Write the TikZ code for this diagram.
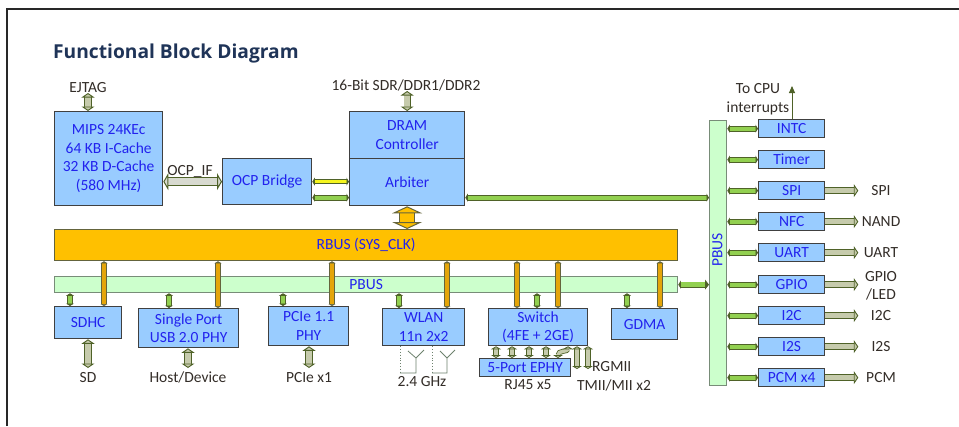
\documentclass[tikz,border=0pt]{standalone}
\usepackage{fontspec}
\setmainfont{Carlito}
\newfontfamily\titlefont{Open Sans}
\usetikzlibrary{arrows.meta}
\definecolor{boxfill}{RGB}{153,204,255}
\definecolor{boxdraw}{RGB}{64,64,64}
\definecolor{boxtext}{RGB}{34,34,238}
\definecolor{lblc}{RGB}{51,45,40}
\definecolor{titlec}{RGB}{31,52,88}
\definecolor{khaki}{RGB}{198,203,172}
\definecolor{dkgreen}{RGB}{79,98,40}
\definecolor{lgreen}{RGB}{146,208,80}
\definecolor{rbusfill}{RGB}{255,192,0}
\definecolor{rbusdraw}{RGB}{100,100,60}
\definecolor{pbusfill}{RGB}{204,255,204}
\definecolor{pbusdraw}{RGB}{120,140,120}
\definecolor{oline}{RGB}{228,165,10}
\definecolor{lgray}{RGB}{216,218,208}
\definecolor{yellowc}{RGB}{245,245,30}
\definecolor{antc}{RGB}{110,130,110}
\definecolor{framec}{RGB}{40,40,40}
\tikzset{
  ktip/.tip={Triangle[width=13pt,length=4.5pt,fill=khaki,line width=0.9pt]},
  ktips/.tip={Triangle[width=10pt,length=3pt,fill=khaki,line width=0.8pt]},
  gtip/.tip={Triangle[width=8pt,length=2.5pt]},
  gbig/.tip={Triangle[width=10pt,length=4pt]},
  otip/.tip={Triangle[width=7pt,length=2pt]},
  grtip/.tip={Triangle[width=17pt,length=5pt,fill=lgray,line width=1pt]},
  bigotip/.tip={Triangle[width=30pt,length=7pt,fill=rbusfill,line width=1pt]},
  box/.style={draw=boxdraw, fill=boxfill, line width=1.3pt, text=boxtext,
    align=center, inner sep=0pt, anchor=north west},
  lbl/.style={text=lblc, inner sep=0pt, align=center},
  karrow/.style={draw=dkgreen, double=khaki, line width=0.9pt, double distance=5.5pt, ktip-ktip},
  ksmall/.style={draw=dkgreen, double=khaki, line width=0.8pt, double distance=3.5pt, ktips-ktips},
  kout/.style={draw=dkgreen, double=khaki, line width=0.9pt, double distance=5pt, -ktip},
  garrow/.style={draw=dkgreen, double=lgray, line width=1pt, double distance=7pt, grtip-grtip},
  gbus/.style={draw=dkgreen, double=lgreen, line width=0.9pt, double distance=4pt, gtip-gtip},
  gbus2/.style={draw=dkgreen, double=lgreen, line width=0.9pt, double distance=4.5pt, gtip-gbig},
  obus/.style={draw=rbusdraw, double=oline, line width=0.8pt, double distance=3.5pt, otip-otip},
  ybus/.style={draw=dkgreen, double=yellowc, line width=0.9pt, double distance=3.5pt, gtip-gtip},
  oarrow/.style={draw=rbusdraw, double=rbusfill, line width=1pt, double distance=14pt, bigotip-bigotip},
  ant/.style={draw=antc, line width=0.8pt},
}
\begin{document}
\begin{tikzpicture}[x=1pt,y=-1pt,font=\fontsize{15.5}{18.5}\selectfont]
\useasboundingbox (0,0) rectangle (959,426);
\fill[white] (0,0) rectangle (959,426);
\draw[framec, line width=1.5pt] (7,426) -- (7,9) -- (959,9);

\node[anchor=base west, inner sep=0pt, text=titlec,
  font=\titlefont\bfseries\fontsize{19.2}{21}\selectfont] (title) at (53,58) {Functional Block Diagram};

% main blocks
\node[box, minimum width=108pt, minimum height=94pt] (mips) at (54,111)
  {MIPS 24KEc\\64 KB I-Cache\\32 KB D-Cache\\(580 MHz)};
\node[box, minimum width=89pt, minimum height=46pt] (ocp) at (222,158) {OCP Bridge};
\node[box, minimum width=115pt, minimum height=47pt] (dram) at (349,111) {DRAM\\Controller};
\node[box, minimum width=115pt, minimum height=47pt] (arb) at (349,158) {Arbiter};

\node[box, fill=rbusfill, draw=rbusdraw, minimum width=623pt, minimum height=31pt] (rbus) at (54,229) {RBUS (SYS\_CLK)};
\node[box, fill=pbusfill, draw=pbusdraw, minimum width=623pt, minimum height=16pt] (pbus) at (54,276) {PBUS};
\node[box, fill=pbusfill, draw=pbusdraw, minimum width=17pt, minimum height=265pt] (vpbus) at (709,120) {};
\node[rotate=90, text=boxtext, inner sep=0pt] (vpbuslbl) at (717.5,250) {PBUS};

% peripheral blocks on the right
\foreach \n/\t/\y in {intc/INTC/119, timer/Timer/150, spi/SPI/181, nfc/NFC/212,
    uart/UART/243, gpio/GPIO/275, itc/I2C/306, its/I2S/337, pcm/PCM x4/368}
  \node[box, minimum width=66pt, minimum height=18pt] (\n) at (758,\y) {\t};

% bottom blocks
\node[box, minimum width=67pt, minimum height=32pt] (sdhc) at (54,306) {SDHC};
\node[box, minimum width=100pt, minimum height=39pt] (usb) at (138,308) {Single Port\\USB 2.0 PHY};
\node[box, minimum width=80pt, minimum height=39pt] (pcie) at (268,306) {PCIe 1.1\\PHY};
\node[box, minimum width=82pt, minimum height=37pt] (wlan) at (382,308) {WLAN\\11n 2x2};
\node[box, minimum width=99pt, minimum height=37pt] (sw) at (488,308) {Switch\\(4FE + 2GE)};
\node[box, minimum width=66pt, minimum height=31pt] (gdma) at (611,308) {GDMA};
\node[box, minimum width=91pt, minimum height=18pt] (ephy) at (479,358) {5-Port EPHY};

% labels
\node[lbl, anchor=base] (ejtag) at (88,92) {EJTAG};
\node[lbl, anchor=base] (ddr) at (406,90) {16-Bit SDR/DDR1/DDR2};
\node[lbl, anchor=base] (ocpif) at (190,175) {OCP\_IF};
\node[lbl, font=\fontsize{15.5}{19}\selectfont] (cpuint) at (758,99) {To CPU\\interrupts};
\foreach \n/\t/\y in {spil/SPI/195, nandl/NAND/226, uartl/UART/257, itcl/I2C/320, itsl/I2S/351, pcml/PCM/382}
  \node[lbl, anchor=base] (\n) at (881,\y) {\t};
\node[lbl, font=\fontsize{15.5}{17.5}\selectfont] (gpiol) at (881,286) {GPIO\\/LED};
\node[lbl, anchor=base] (sdl) at (88,382) {SD};
\node[lbl, anchor=base] (usbl) at (188,382) {Host/Device};
\node[lbl, anchor=base] (pciel) at (309,382) {PCIe x1};
\node[lbl, anchor=base] (ghz) at (422,386) {2.4 GHz};
\node[lbl, anchor=base] (rj) at (528,389) {RJ45 x5};
\node[lbl, anchor=base west] (rgmii) at (592,371) {RGMII};
\node[lbl, anchor=base] (tmii) at (614,390) {TMII/MII x2};

% top connectors
\draw[karrow] (88,0 |- mips.north) -- ++(0,-18);
\draw[karrow] (dram.north) -- ++(0,-20);
\draw[garrow] (mips.east |- ocp.west) -- (ocp.west);
\draw[ybus] (ocp.east) -- (ocp.east -| arb.west);
\coordinate (g1) at ([yshift=-16pt]ocp.east);
\draw[gbus] (g1) -- (g1 -| arb.west);
\draw[gbus] (g1 -| arb.east) -- (g1 -| vpbus.west);
\draw[oarrow] (arb.south) -- (arb.south |- rbus.north);
\draw[gbus2] (pbus.east) -- (pbus.east -| vpbus.west);

% right side
\foreach \n in {intc,timer,spi,nfc,uart,gpio,itc,its,pcm}
  \draw[gbus] (\n.west -| vpbus.east) -- (\n.west);
\foreach \n in {spi,nfc,uart,gpio,itc,its,pcm}
  \draw[kout] (\n.east) -- ++(33,0);
\coordinate (cputip) at (792,86);
\draw[dkgreen, line width=0.9pt, -{Triangle[width=6pt,length=7pt]}] (cputip |- intc.north) -- (cputip);

% bottom bus connections
\foreach \x/\b in {70/sdhc,169/usb,283/pcie,399/wlan,537/sw,627/gdma}
  \draw[gbus] (\x,0 |- pbus.south) -- (\x,0 |- \b.north);
\foreach \x/\b in {104/sdhc,218/usb,332/pcie,447/wlan,517/sw,558/sw,660/gdma}
  \draw[obus] (\x,0 |- rbus.south) -- (\x,0 |- \b.north);

% external interfaces at the bottom
\draw[karrow] (88,0 |- sdhc.south) -- (88,368);
\draw[karrow] (188,0 |- usb.south) -- (188,368);
\draw[karrow] (309,0 |- pcie.south) -- (309,368);

% antennas
\draw[ant, dotted] (400,0 |- wlan.south) -- (400,373);
\draw[ant] (400,373) -- (416,373) -- (416,358) -- (408,351) (416,358) -- (424,350);
\draw[ant, dotted] (432,0 |- wlan.south) -- (432,373);
\draw[ant] (432,373) -- (447,373) -- (447,358) -- (440,351) (447,358) -- (455,350);

% switch to EPHY
\foreach \x in {496,512,529,546}
  \draw[ksmall] (\x,0 |- sw.south) -- (\x,0 |- ephy.north);
\draw[ksmall] (568,0 |- sw.south) .. controls (568,352) and (558,350) .. (558,0 |- ephy.north);
\coordinate (rg1) at (577,369);
\coordinate (rg2) at (588,369);
\draw[ksmall] (rg1 |- sw.south) -- (rg1);
\draw[ksmall] (rg2 |- sw.south) -- (rg2);
\end{tikzpicture}
\end{document}
